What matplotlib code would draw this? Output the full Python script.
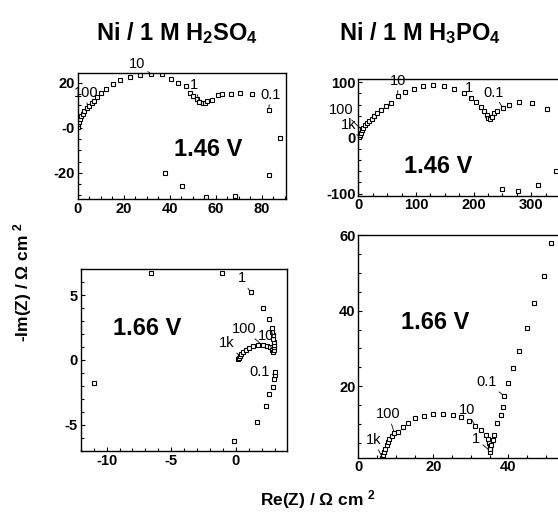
import matplotlib
matplotlib.use("Agg")
import matplotlib.pyplot as plt
from matplotlib.ticker import MultipleLocator

plt.rcParams['font.family'] = ['Liberation Sans', 'DejaVu Sans']
plt.rcParams['font.weight'] = 'bold'
plt.rcParams['axes.unicode_minus'] = False
plt.rcParams['mathtext.fontset'] = 'custom'
plt.rcParams['mathtext.rm'] = 'Liberation Sans:bold'
plt.rcParams['mathtext.it'] = 'Liberation Sans:bold'
plt.rcParams['mathtext.bf'] = 'Liberation Sans:bold'
plt.rcParams['mathtext.default'] = 'rm'

# Ni / 1 M H2SO4, 1.46 V
so4_146_re = [0, 0.3, 0.6, 1.0, 1.6, 2.2, 2.9, 3.9, 5.0, 6.2, 7.2, 8.5, 10.1, 12.3, 15.2,
              18.4, 22.7, 27.1, 31.9, 36.5, 40.4, 43.8, 47.1, 48.8, 50.0, 51.7, 52.9, 54.3,
              55.3, 56.1, 58.3, 60.9, 62.6, 66.7, 70.6, 75.6, 83.0, 88.1, 83.3, 68.4, 55.6,
              45.2, 38.1]
so4_146_im = [0.6, 1.8, 2.8, 3.9, 5.1, 6.2, 7.3, 8.7, 9.8, 11.0, 12.1, 13.6, 15.7, 17.5, 19.6,
              21.3, 22.8, 23.3, 24.0, 24.0, 21.6, 20.1, 18.8, 15.7, 14.2, 12.7, 11.7, 11.2,
              11.2, 12.1, 12.4, 14.8, 14.9, 15.1, 15.7, 15.1, 7.9, -4.3, -20.8, -30.2, -30.5,
              -25.8, -20.1]

# Ni / 1 M H3PO4, 1.46 V
po4_146_re = [1.8, 2.9, 4.6, 6.3, 8.6, 11.0, 14.5, 18.6, 23.2, 27.8, 33.0, 39.4, 47.5, 57.3,
              68.3, 81.2, 96.7, 113, 130, 149, 166.7, 184, 195, 203.7, 212.5, 218.3, 223,
              225.7, 228.6, 231.5, 235.5, 241.3, 250.5, 261.6, 279.5, 301.5, 327.5, 342.6,
              312.5, 277.8, 249.5]
po4_146_im = [1.2, 5.4, 9.6, 14.4, 18.6, 22.8, 27.6, 31.2, 34.8, 39.6, 44.4, 50.4, 57.6, 63.5,
              76.1, 82.7, 88.7, 94, 95, 93.5, 87.5, 80.3, 71.3, 64.1, 56.3, 49.1, 41.4,
              35.4, 34.8, 38.4, 44.4, 49.1, 54.5, 59.8, 64.6, 63.5, 52.8, -58.8,
              -84.5, -95.3, -91.7]

# Ni / 1 M H2SO4, 1.66 V
so4_166_re = [0.18, 0.23, 0.31, 0.41, 0.57, 0.77, 1.03, 1.34, 1.73, 2.06, 2.37, 2.63, 2.81,
              2.89, 2.94, 2.94, 2.94, 2.91, 2.89, 2.86, 2.81, 2.76, 2.53, 2.11, 1.13, -1.11,
              -6.57, -10.96, -4.33, -0.12, 1.65, 2.32, 2.58, 2.84, 2.97, 3.05, 3.0]
so4_166_im = [0.05, 0.18, 0.31, 0.44, 0.62, 0.77, 0.93, 1.06, 1.13, 1.16, 1.11, 0.98, 0.77,
              0.59, 0.77, 0.98, 1.18, 1.39, 1.65, 1.90, 2.16, 2.47, 3.13, 4.03, 5.22, 6.68,
              6.73, -1.79, -7.14, -6.24, -4.75, -3.52, -2.62, -2.06, -1.49, -1.15, -0.9]

# Ni / 1 M H3PO4, 1.66 V
po4_166_re = [6.3, 6.67, 6.94, 7.2, 7.56, 7.9, 8.3, 8.9, 9.6, 10.5, 11.8, 13.3, 15.1, 17.6,
              20.0, 22.7, 25.2, 27.4, 29.5, 31.1, 32.7, 33.96, 34.7, 34.9, 35.1, 35.1, 35.1,
              35.2, 35.4, 35.8, 36.2, 36.9, 38.1, 38.7, 38.8, 39.8, 41.2, 42.8, 45.1, 46.8,
              49.5, 51.4]
po4_166_im = [0.9, 1.8, 2.6, 3.5, 4.4, 5.2, 6.0, 6.9, 7.7, 8.0, 9.3, 10.4, 11.5, 12.2,
              12.6, 12.6, 12.4, 11.9, 10.9, 9.6, 8.4, 7.1, 6.0, 5.0, 4.1, 3.3, 2.7,
              3.5, 4.5, 5.8, 7.1, 10.2, 12.4, 14.6, 17.5, 20.8, 24.7, 29.4, 35.3, 42.1,
              49.1, 58.0]

# frequency labels: (text, text position, point position)
so4_146_labels = [("10", (25.7, 28.5), (31.9, 24.0)), ("100", (3.5, 15.5), (4.3, 9.3)),
                  ("1", (50.6, 19.1), (52.9, 11.7)), ("0.1", (83.6, 14.7), (83.0, 7.9))]
po4_146_labels = [("10", (68.9, 103), (68.3, 76.1)), ("1", (192.7, 90), (195, 71.3)),
                  ("0.1", (234, 81.5), (250.5, 54.5)), ("100", (-29, 50), (6.3, 14.4)),
                  ("1k", (-17, 24), (1.8, 1.2))]
so4_166_labels = [("1", (0.44, 6.3), (1.13, 5.22)), ("100", (0.62, 2.39), (2.0, 1.16)),
                  ("10", (2.3, 1.85), (2.81, 0.77)), ("1k", (-0.72, 1.29), (0.3, 0.3)),
                  ("0.1", (1.82, -0.9), (3.05, -1.15))]
po4_166_labels = [("0.1", (34.2, 21.1), (38.8, 17.5)), ("10", (28.9, 13.7), (31.1, 9.6)),
                  ("100", (8.0, 12.6), (9.6, 7.7)), ("1k", (4.0, 5.8), (6.5, 1.0)),
                  ("1", (31.4, 6.05), (35.0, 3.0))]

fig = plt.figure(figsize=(5.58, 5.13), dpi=100)


def panel(rect, re, im, labels, xlim, ylim, xmaj, xmin, ymaj, ymin, vtext, vpos):
    ax = fig.add_axes(rect)
    ax.plot(re, im, ls='none', marker='s', ms=3.2, mfc='white', mec='black', mew=0.8)
    ax.set_xlim(*xlim)
    ax.set_ylim(*ylim)
    ax.xaxis.set_major_locator(MultipleLocator(xmaj))
    ax.xaxis.set_minor_locator(MultipleLocator(xmin))
    ax.yaxis.set_major_locator(MultipleLocator(ymaj))
    ax.yaxis.set_minor_locator(MultipleLocator(ymin))
    ax.tick_params(which='both', direction='in', width=0.8, labelsize=10.5, pad=2)
    ax.tick_params(which='major', length=3)
    ax.tick_params(which='minor', length=2)
    for lab in ax.get_xticklabels() + ax.get_yticklabels():
        lab.set_fontweight('bold')
    for s in ax.spines.values():
        s.set_linewidth(1.0)
    for txt, tpos, ppos in labels:
        ax.annotate(txt, xy=ppos, xytext=tpos, ha='center', va='center', fontsize=10.5,
                    fontweight='normal', annotation_clip=False,
                    arrowprops=dict(arrowstyle='-', lw=0.6, color='black', shrinkA=0, shrinkB=1))
    ax.text(vpos[0], vpos[1], vtext, ha='center', va='center', fontsize=17, fontweight='bold')
    return ax


ax1 = panel([0.1392, 0.6121, 0.3733, 0.2456], so4_146_re, so4_146_im, so4_146_labels,
            (0, 90.5), (-31.6, 24.4), 20, 5, 20, 5, "1.46 V", (56.7, -9.8))
ax1.set_yticks([-20, 0, 20])
ax1.set_yticklabels(['-20', '-0', '20'], fontweight='bold')

ax2 = panel([0.6421, 0.6185, 0.3615, 0.2275], po4_146_re, po4_146_im, po4_146_labels,
            (0, 350), (-103.8, 106), 100, 25, 100, 20, "1.46 V", (138, -52))

ax3 = panel([0.1446, 0.1209, 0.3697, 0.3548], so4_166_re, so4_166_im, so4_166_labels,
            (-12.0, 3.94), (-7.02, 7.02), 5, 1, 5, 1, "1.66 V", (-6.9, 2.44))

ax4 = panel([0.6421, 0.1078, 0.3697, 0.4347], po4_166_re, po4_166_im, po4_166_labels,
            (0, 55), (1.1, 60.1), 20, 5, 20, 5, "1.66 V", (20.5, 36.9))

fig.text(176.7 / 558, 1 - 33 / 513, r"Ni / 1 M H$_{2}$SO$_{4}$", ha='center', va='center',
         fontsize=17, fontweight='bold')
fig.text(420 / 558, 1 - 33 / 513, r"Ni / 1 M H$_{3}$PO$_{4}$", ha='center', va='center',
         fontsize=17, fontweight='bold')
fig.text(23 / 558, 1 - 282 / 513, r"-Im(Z) / $\Omega$ cm $^{2}$", rotation=90,
         ha='center', va='center', fontsize=12.5, fontweight='bold')
fig.text(318 / 558, 1 - 500 / 513, r"Re(Z) / $\Omega$ cm $^{2}$", ha='center', va='center',
         fontsize=12.5, fontweight='bold')

fig.savefig("out.png", dpi=100)
